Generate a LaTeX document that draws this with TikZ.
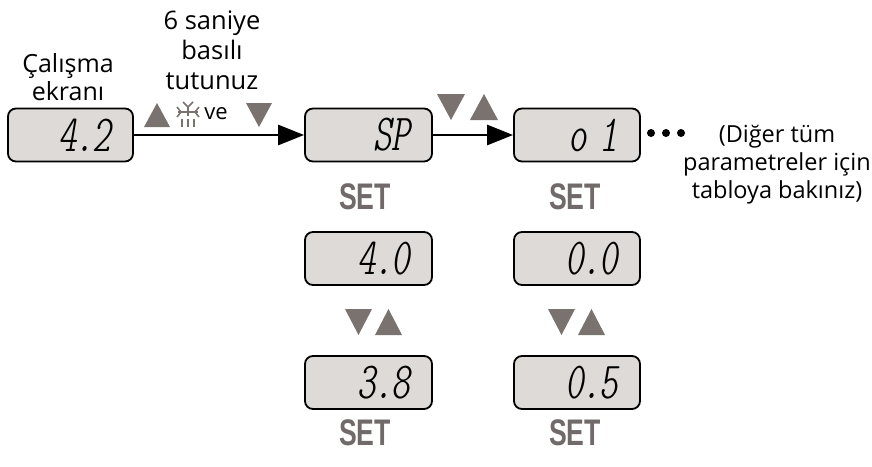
\documentclass[tikz,border=0pt]{standalone}
\usepackage{fontspec}
\setmainfont{Open Sans}
\newfontfamily\lcd{lmmonoltcond10-oblique.otf}
\newfontfamily\setfont[FakeStretch=0.72]{Liberation Sans}
\usetikzlibrary{arrows.meta}
\definecolor{lcdfill}{RGB}{222,218,216}
\definecolor{tri}{RGB}{122,114,110}
\definecolor{setgray}{RGB}{112,107,106}
\tikzset{
  display/.style={draw=black, line width=1.8pt, fill=lcdfill, rounded corners=8pt,
    minimum height=53pt, inner xsep=22pt, text width=#1, align=right,
    font=\lcd\fontsize{52}{52}\selectfont},
  display/.default=82pt,
  setlbl/.style={font=\setfont\bfseries\fontsize{37}{37}\selectfont, text=setgray, inner sep=0pt},
  lbl/.style={font=\fontsize{25.5}{30}\selectfont, align=center, inner sep=0pt},
  flow/.style={line width=2.8pt, -{Triangle[length=26pt,width=20pt]}},
  tri/.style={fill=tri, draw=none},
}
\newcommand\lcddot{\kern-1pt.\kern-1pt}
\begin{document}
\begin{tikzpicture}[x=1pt,y=-1pt]
\useasboundingbox (0,0) rectangle (872,466);
% displays
\node[display=81pt] (d1) at (70.5,135) {4\lcddot2};
\node[display=83pt] (d2) at (368.5,135) {SP};
\node[display=82pt] (d3) at (577,135) {o\kern-4pt\ 1};
\node[display=83pt] (d4) at (368.5,258.5) {4\lcddot0};
\node[display=83pt] (d5) at (368.5,382.5) {3\lcddot8};
\node[display=82pt] (d6) at (577,258.5) {0\lcddot0};
\node[display=82pt] (d7) at (577,382.5) {0\lcddot5};
% arrows
\draw[flow] (d1.east) -- (d2.west);
\draw[flow] (d2.east) -- (d3.west);
% labels
\node[lbl, font=\fontsize{25}{28}\selectfont] (t1) at (68,77) {Çalışma\\ekranı};
\node[lbl] (t2) at (212,50) {6 saniye\\basılı\\tutunuz};
\node[lbl, font=\fontsize{23.5}{28}\selectfont] (t3) at (777,165) {(Diğer tüm\\parametreler için\\tabloya bakınız)};
\node[lbl, font=\fontsize{22}{22}\selectfont] (ve) at (216,114) {ve};
% triangles on first arrow
\fill[tri] (144,127) -- (170,127) -- (157,103) -- cycle;
\fill[tri] (246,103) -- (272,103) -- (259,127) -- cycle;
% defrost icon
\begin{scope}[draw=tri, line width=1.5pt]
  \draw (188,106) -- (188,116);
  \draw (183,102) -- (188,107) -- (193,102);
  \draw (178,112) -- (198,112);
  \draw (177,107) -- (181,112) -- (177,117);
  \draw (199,107) -- (195,112) -- (199,117);
  \draw (182,119) -- (182,127);
  \draw (188,119) -- (188,127);
  \draw (194,119) -- (194,127);
\end{scope}
% triangles between SP and o1
\fill[tri] (437,94) -- (465,94) -- (451,120) -- cycle;
\fill[tri] (470,120) -- (498,120) -- (484,94) -- cycle;
% triangles between rows
\fill[tri] (345,309) -- (372,309) -- (358.5,335) -- cycle;
\fill[tri] (375,335) -- (402,335) -- (388.5,309) -- cycle;
\fill[tri] (548,309) -- (575,309) -- (561.5,335) -- cycle;
\fill[tri] (578,335) -- (605,335) -- (591.5,309) -- cycle;
% SET labels
\node[setlbl] (s1) at (365,197) {SET};
\node[setlbl] (s2) at (575,197) {SET};
\node[setlbl] (s3) at (365,433) {SET};
\node[setlbl] (s4) at (575,433) {SET};
% dots
\fill (651,133) circle (4) (666,133) circle (4) (681,133) circle (4);
\end{tikzpicture}
\end{document}
